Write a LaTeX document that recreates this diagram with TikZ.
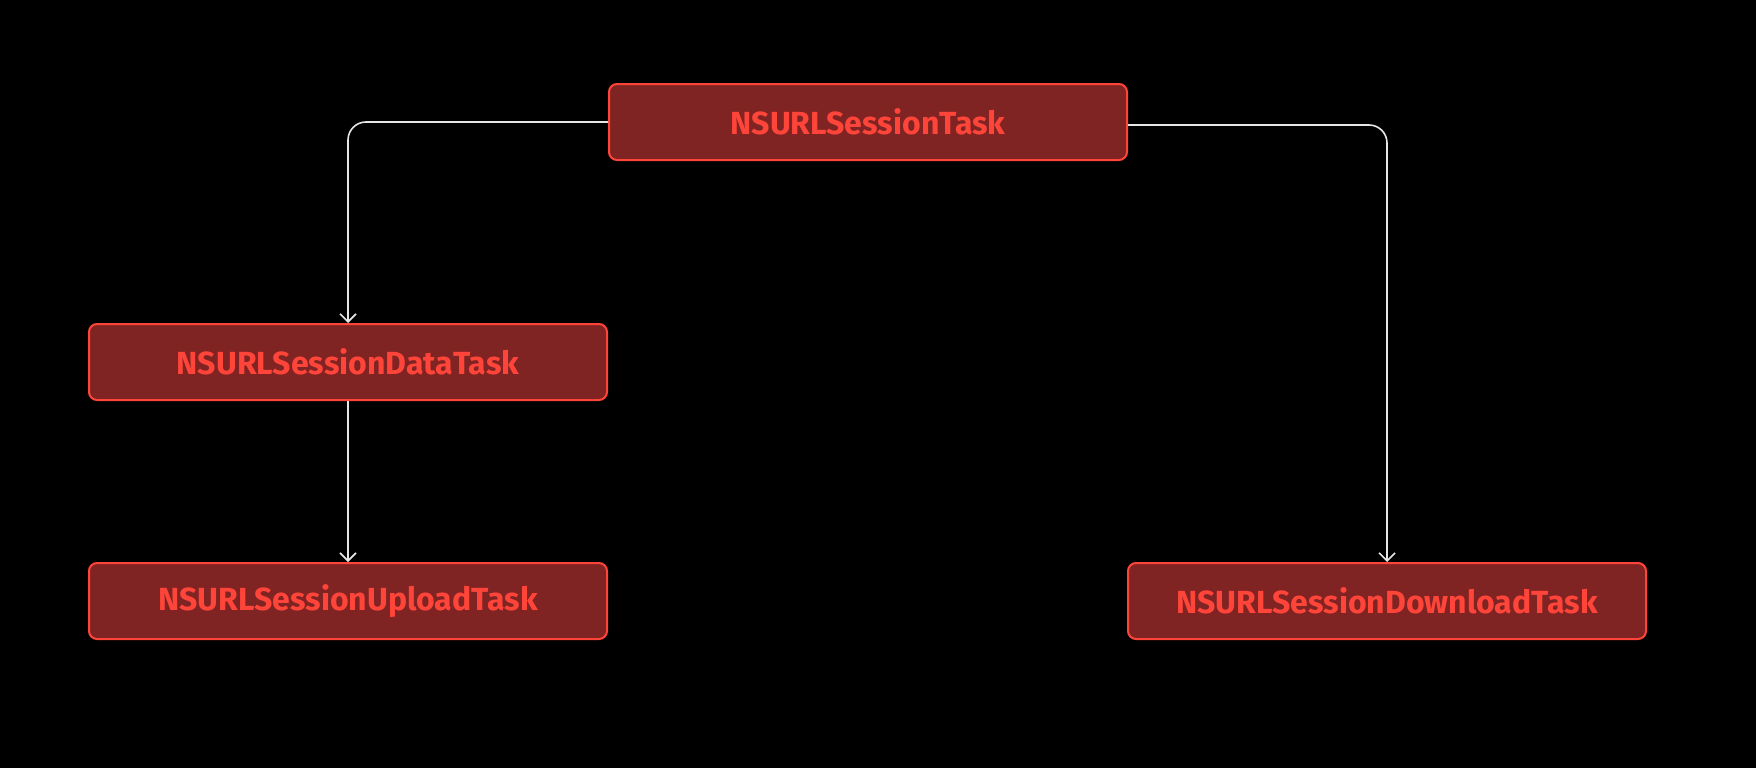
\documentclass[tikz,border=0pt]{standalone}
\usepackage{fontspec}
\setmainfont{Fira Sans}
\usetikzlibrary{arrows.meta}
\definecolor{boxfill}{HTML}{7F2323}
\definecolor{boxline}{HTML}{FF453A}
\definecolor{wire}{HTML}{E6E6E6}
\tikzset{
  task/.style={draw=boxline, line width=2pt, fill=boxfill, rounded corners=8pt,
    minimum width=518pt, minimum height=76pt, text=boxline,
    font=\fontsize{32}{38}\selectfont\bfseries},
  conn/.style={draw=wire, line width=1.6pt, rounded corners=18pt,
    -{Straight Barb[length=8pt,width=16pt,line width=1.6pt]}}
}
\begin{document}
\begin{tikzpicture}[x=1pt,y=-1pt]
      \fill[black] (0,0) rectangle (1756,768);
      \useasboundingbox (0,0) rectangle (1756,768);
      \node[task] (task) at (868,122) {NSURLSessionTask};
      \node[task] (data) at (348,362) {NSURLSessionDataTask};
      \node[task] (upload) at (348,601) {NSURLSessionUploadTask};
      \node[task] (download) at (1387,601) {NSURLSessionDownloadTask};
      \draw[conn] (task.west) -| (data.north);
      \draw[conn] ([yshift=-3pt]task.east) -| (download.north);
      \draw[conn] (data) -- (upload);
\end{tikzpicture}
\end{document}
